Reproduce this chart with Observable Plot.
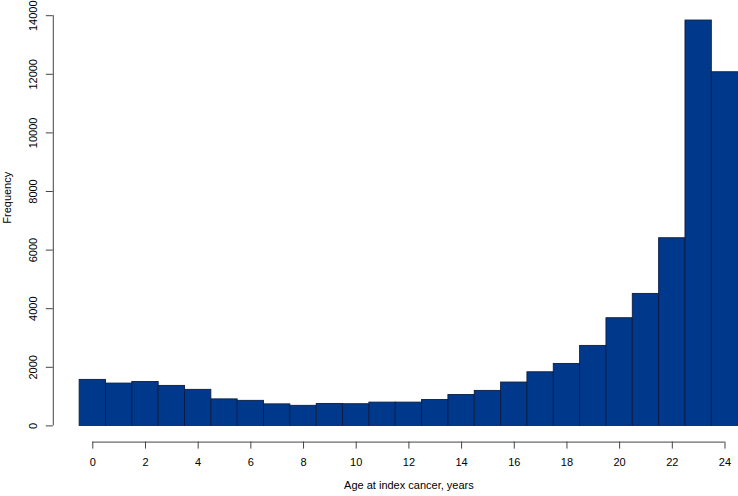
<!DOCTYPE html>
<html>
<head>
<meta charset="utf-8">
<script src="https://cdn.jsdelivr.net/npm/d3@7"></script>
<script src="https://cdn.jsdelivr.net/npm/@observablehq/plot@0.6"></script>
<style>
  html, body { margin: 0; padding: 0; background: #fff; }
  svg { font-family: "Liberation Sans", Arial, Helvetica, sans-serif; }
</style>
</head>
<body>
<div id="chart"></div>
<script>
const ages = [0,1,2,3,4,5,6,7,8,9,10,11,12,13,14,15,16,17,18,19,20,21,22,23,24];
const counts = [1570,1445,1500,1365,1230,905,855,735,685,750,740,795,795,885,1055,1195,1480,1830,2115,2730,3675,4505,6405,13835,12070];
const xTicks = [0,2,4,6,8,10,12,14,16,18,20,22,24];
const yTicks = [0,2000,4000,6000,8000,10000,12000,14000];
const xLabel = "Age at index cancer, years";
const yLabel = "Frequency";

const data = ages.map((a, i) => ({age: a, count: counts[i]}));

const xDomain = [-1.5, 24.513];
const yDomain = [-553, 14000];
const axisColor = "#444";

const chart = Plot.plot({
  width: 738,
  height: 496,
  marginLeft: 52.8,
  marginRight: 0,
  marginTop: 15.2,
  marginBottom: 54.4,
  style: {fontFamily: '"Liberation Sans", Arial, Helvetica, sans-serif', fontSize: "11px", color: "#000", background: "#fff"},
  x: {domain: xDomain, axis: null},
  y: {domain: yDomain, axis: null},
  marks: [
    Plot.rectY(data, {
      x1: d => d.age - 0.5,
      x2: d => d.age + 0.5,
      y: "count",
      fill: "#00398b",
      stroke: "#0b1d45",
      strokeWidth: 0.9
    }),
    // x axis
    Plot.ruleY([yDomain[0]], {x1: xTicks[0], x2: xTicks[xTicks.length - 1], stroke: axisColor}),
    Plot.axisX({anchor: "bottom", ticks: xTicks, tickFormat: d => String(d), tickSize: 7, tickPadding: 9, fontSize: 11, label: null, stroke: axisColor, fill: "#000"}),
    // y axis
    Plot.ruleX([xDomain[0]], {y1: yTicks[0], y2: yTicks[yTicks.length - 1], stroke: axisColor}),
    Plot.axisY({anchor: "left", ticks: yTicks, tickFormat: d => String(d), tickSize: 7, tickPadding: 9.5, tickRotate: -90, fontSize: 11, label: null, stroke: axisColor, fill: "#000"}),
    // axis titles
    Plot.text([xLabel], {frameAnchor: "bottom", x: (xDomain[0] + 25.5) / 2, dy: 47, fontSize: 11, fill: "#000"}),
    Plot.text([yLabel], {frameAnchor: "left", y: 6900, dx: -45.5, rotate: -90, fontSize: 11, fill: "#000"})
  ]
});
document.getElementById("chart").appendChild(chart);
</script>
</body>
</html>
